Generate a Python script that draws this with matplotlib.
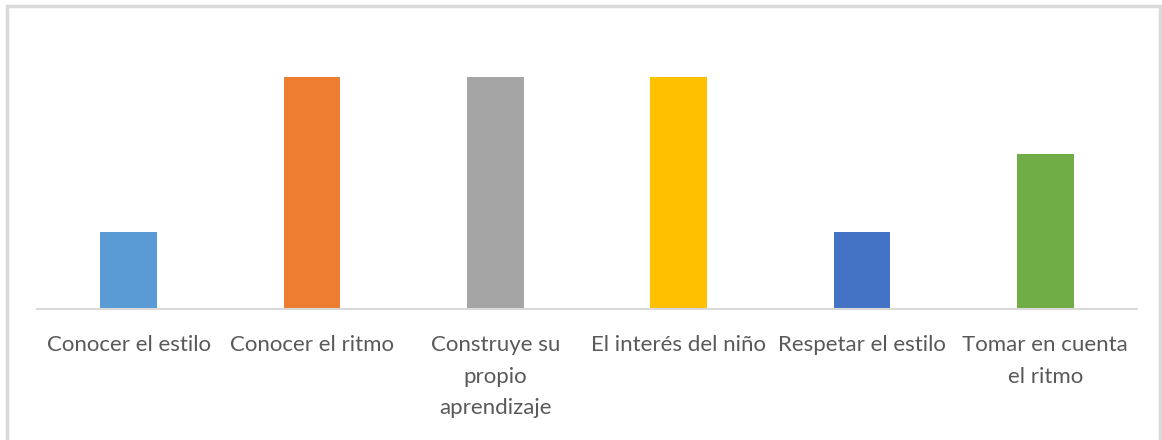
import matplotlib
matplotlib.use("Agg")
import matplotlib.pyplot as plt
from matplotlib.patches import Rectangle

categories = ["Conocer el estilo", "Conocer el ritmo", "Construye su\npropio\naprendizaje",
              "El interés del niño", "Respetar el estilo", "Tomar en cuenta\nel ritmo"]
values = [1, 3, 3, 3, 1, 2]
colors = ["#5B9BD5", "#ED7D31", "#A5A5A5", "#FFC000", "#4472C4", "#70AD47"]

W, H = 1162, 440
fig = plt.figure(figsize=(W/100, H/100), dpi=100)
fig.patches.append(Rectangle((7/W, -0.1), (1160-7)/W, 1.1 - 6/H, transform=fig.transFigure,
                             fill=False, edgecolor="#D9D9D9", linewidth=2.5))

ax = fig.add_axes([37/W, 1 - 309/H, 1100/W, (309-38)/H])
x = list(range(len(categories)))
ax.bar(x, values, width=0.31, color=colors)
ax.set_xlim(-0.5, len(categories) - 0.5)
ax.set_ylim(0, 3.5)
for s in ["top", "left", "right"]:
    ax.spines[s].set_visible(False)
ax.spines["bottom"].set_color("#D9D9D9")
ax.spines["bottom"].set_linewidth(1.5)
ax.set_yticks([])
ax.set_xticks(x)
ax.set_xticklabels(categories, fontsize=16, color="#595959", family="Lato", linespacing=1.7)
ax.tick_params(axis="x", length=0, pad=19)
fig.savefig("out.png", dpi=100)
